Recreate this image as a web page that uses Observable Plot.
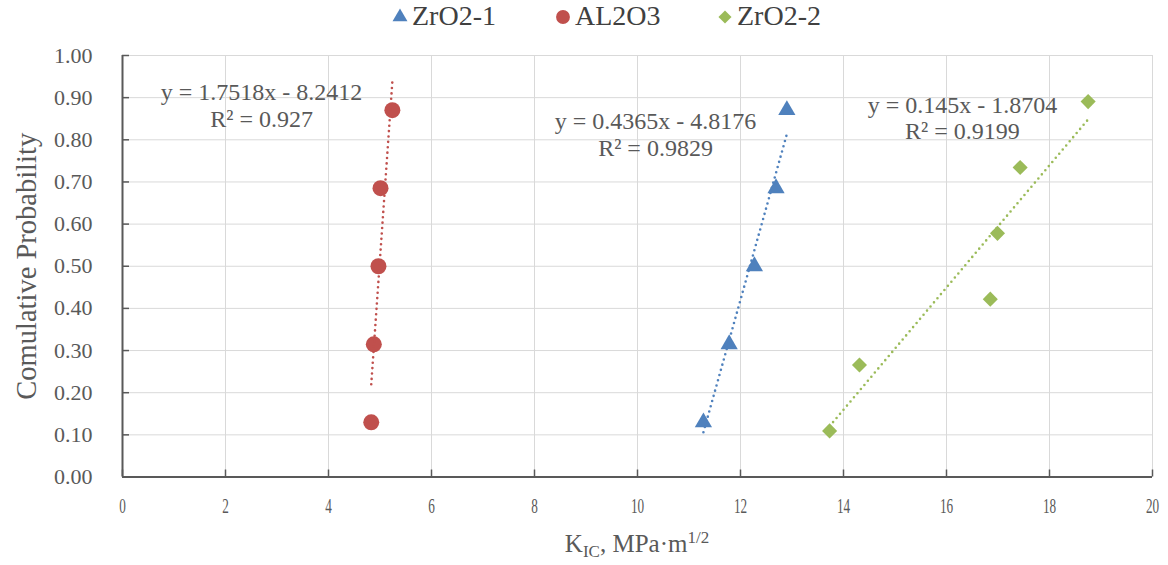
<!DOCTYPE html>
<html><head><meta charset="utf-8">
<script src="https://cdn.jsdelivr.net/npm/d3@7"></script>
<script src="https://cdn.jsdelivr.net/npm/@observablehq/plot@0.6"></script>
<style>
body{margin:0;background:#fff;font-family:"Liberation Serif","Times New Roman",serif;}
#legend{position:relative;height:32px;width:1168px;}
.item{position:absolute;top:0;height:32px;display:flex;align-items:center;font-size:28px;color:#404040;white-space:nowrap;}
.item svg{margin-right:3px;}
#chart{height:496px;}
#xtitle{margin-left:122px;width:1030px;height:37px;text-align:center;font-size:25px;color:#595959;line-height:30px;padding-top:1px;}
#xtitle sub{font-size:0.68em;vertical-align:-0.3em;line-height:0;}
#xtitle sup{font-size:0.68em;vertical-align:0.55em;line-height:0;}
</style></head><body>
<div id="legend"></div>
<div id="chart"></div>
<div id="xtitle">K<sub>IC</sub>, MPa·m<sup>1/2</sup></div>
<script>
// ---- data ----
const seriesNames = ["ZrO2-1", "AL2O3", "ZrO2-2"];
const zro2_1_K = [11.28, 11.78, 12.27, 12.69, 12.90];
const zro2_1_P = [0.1296, 0.3148, 0.5000, 0.6852, 0.8704];
const al2o3_K = [4.83, 4.88, 4.97, 5.01, 5.24];
const al2o3_P = [0.1296, 0.3148, 0.5000, 0.6852, 0.8704];
const zro2_2_K = [13.73, 14.31, 16.85, 16.99, 17.43, 18.75];
const zro2_2_P = [0.1094, 0.2656, 0.4219, 0.5781, 0.7344, 0.8906];
const slopes = [0.4365, 1.7518, 0.145];
const intercepts = [-4.8176, -8.2412, -1.8704];
const r2Labels = ["0.9829", "0.927", "0.9199"];
const xTicks = [0, 2, 4, 6, 8, 10, 12, 14, 16, 18, 20];
const yTicks = [0, 0.1, 0.2, 0.3, 0.4, 0.5, 0.6, 0.7, 0.8, 0.9, 1.0];

// ---- styling / layout ----
const colors = ["#4F81BD", "#C0504D", "#9BBB59"];
const symbols = ["triangle", "circle", "diamond2"];
const radii = [6.4, 8.0, 6.8];
const eqAnchors = [[10.35, 0.815], [2.70, 0.882], [16.31, 0.853]];

const Ks = [zro2_1_K, al2o3_K, zro2_2_K];
const Ps = [zro2_1_P, al2o3_P, zro2_2_P];
const seriesData = seriesNames.map((name, i) => Ks[i].map((k, j) => ({series: name, K: k, P: Ps[i][j]})));
const trendData = seriesNames.map((name, i) => d3.extent(Ks[i]).map(x => ({K: x, P: slopes[i] * x + intercepts[i]})));
const fmtEq = i => `y = ${slopes[i]}x - ${Math.abs(intercepts[i])}\nR² = ${r2Labels[i]}`;

const W = 1168, H = 496, mL = 122, mR = 16, mT = 23, mB = 51.5;
const innerW = W - mL - mR, innerH = H - mT - mB;

const marks = [
  Plot.gridX(xTicks, {stroke: "#d9d9d9", strokeOpacity: 1, strokeWidth: 1}),
  Plot.gridY(yTicks, {stroke: "#d9d9d9", strokeOpacity: 1, strokeWidth: 1}),
  Plot.axisX(xTicks, {tickSize: 0, tickPadding: 20, tickFormat: d => String(d), label: null}),
  Plot.axisY(yTicks, {tickSize: 0, tickPadding: 30, tickFormat: d => d.toFixed(2), label: null}),
  Plot.tickX(xTicks, {x: d => d, stroke: "#595959", strokeWidth: 1.5, insetTop: innerH - 7}),
  Plot.tickY(yTicks, {y: d => d, stroke: "#595959", strokeWidth: 1.5, insetRight: innerW - 7}),
  Plot.ruleX([0], {stroke: "#595959", strokeWidth: 2}),
  Plot.ruleY([0], {stroke: "#595959", strokeWidth: 2}),
  Plot.text(["Comulative Probability"], {frameAnchor: "left", rotate: -90, dx: -96, fontSize: 28.5, fill: "#595959", textAnchor: "middle"})
];
seriesNames.forEach((name, i) => {
  marks.push(Plot.dot(seriesData[i], {x: "K", y: "P", symbol: () => symbols[i], fill: colors[i], r: radii[i], stroke: "none"}));
});
seriesNames.forEach((name, i) => {
  marks.push(Plot.line(trendData[i], {x: "K", y: "P", stroke: colors[i], strokeWidth: 2.6, strokeDasharray: "0 5.4", strokeLinecap: "round"}));
  marks.push(Plot.text([fmtEq(i)], {x: () => eqAnchors[i][0], y: () => eqAnchors[i][1], fontSize: 24, lineHeight: 1.12, fill: "#595959", textAnchor: "middle"}));
});

const chart = Plot.plot({
  width: W, height: H, marginLeft: mL, marginRight: mR, marginTop: mT, marginBottom: mB,
  style: {fontFamily: "'Liberation Serif', 'Times New Roman', serif", background: "#fff", overflow: "visible"},
  x: {domain: [0, 20]},
  y: {domain: [0, 1]},
  symbol: {type: "identity"},
  marks
});
document.getElementById("chart").appendChild(chart);

// tick label styling; x labels horizontally condensed, as in reference
const sc = d3.select(chart);
sc.selectAll("g[aria-label='x-axis tick label'], g[aria-label='y-axis tick label']")
  .attr("font-size", 22).attr("fill", "#595959");
sc.selectAll("g[aria-label='x-axis tick label'] text").each(function() {
  const tr = this.getAttribute("transform") || "";
  d3.select(this).attr("font-size", 22).attr("fill", "#595959").attr("transform", tr + " scale(0.6,1)");
});
sc.selectAll("g[aria-label='y-axis tick label'] text").attr("font-size", 22).attr("fill", "#595959");

// ---- legend ----
const legendX = [400, 563, 725];
const legend = d3.select("#legend");
seriesNames.forEach((name, i) => {
  const item = legend.append("div").attr("class", "item").style("left", (legendX[i] - 9) + "px");
  const s = item.append("svg").attr("width", 18).attr("height", 18);
  const sym = {triangle: d3.symbolTriangle, circle: d3.symbolCircle, diamond2: d3.symbolDiamond2}[symbols[i]];
  s.append("path").attr("transform", "translate(9,10)").attr("d", d3.symbol(sym, Math.PI * radii[i] * radii[i] * 0.75)()).attr("fill", colors[i]);
  item.append("span").text(name);
});
</script>
</body></html>
